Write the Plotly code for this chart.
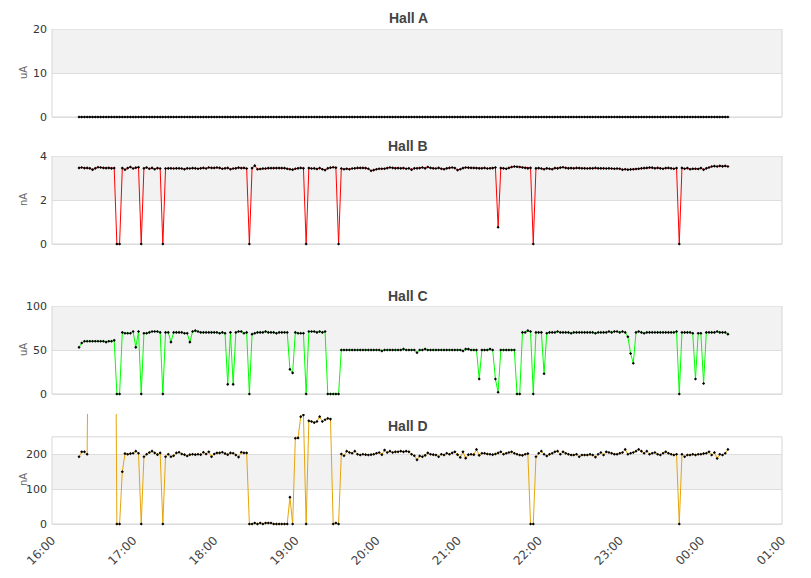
import pandas as pd
import plotly.graph_objects as go

# 2-minute samples, 16:20 -> 00:20
times = pd.date_range("2024-05-10 16:20", periods=241, freq="2min")
hour_ticks = pd.date_range("2024-05-10 16:00", periods=10, freq="1h")
hour_labels = ["16:00", "17:00", "18:00", "19:00", "20:00",
               "21:00", "22:00", "23:00", "00:00", "01:00"]

hall_names = ["Hall A", "Hall B", "Hall C", "Hall D"]
hall_units = ["uA", "nA", "uA", "nA"]

hall_a = [
    0, 0, 0, 0, 0, 0, 0, 0, 0, 0, 0, 0, 0, 0, 0, 0, 0, 0, 0, 0,
    0, 0, 0, 0, 0, 0, 0, 0, 0, 0, 0, 0, 0, 0, 0, 0, 0, 0, 0, 0,
    0, 0, 0, 0, 0, 0, 0, 0, 0, 0, 0, 0, 0, 0, 0, 0, 0, 0, 0, 0,
    0, 0, 0, 0, 0, 0, 0, 0, 0, 0, 0, 0, 0, 0, 0, 0, 0, 0, 0, 0,
    0, 0, 0, 0, 0, 0, 0, 0, 0, 0, 0, 0, 0, 0, 0, 0, 0, 0, 0, 0,
    0, 0, 0, 0, 0, 0, 0, 0, 0, 0, 0, 0, 0, 0, 0, 0, 0, 0, 0, 0,
    0, 0, 0, 0, 0, 0, 0, 0, 0, 0, 0, 0, 0, 0, 0, 0, 0, 0, 0, 0,
    0, 0, 0, 0, 0, 0, 0, 0, 0, 0, 0, 0, 0, 0, 0, 0, 0, 0, 0, 0,
    0, 0, 0, 0, 0, 0, 0, 0, 0, 0, 0, 0, 0, 0, 0, 0, 0, 0, 0, 0,
    0, 0, 0, 0, 0, 0, 0, 0, 0, 0, 0, 0, 0, 0, 0, 0, 0, 0, 0, 0,
    0, 0, 0, 0, 0, 0, 0, 0, 0, 0, 0, 0, 0, 0, 0, 0, 0, 0, 0, 0,
    0, 0, 0, 0, 0, 0, 0, 0, 0, 0, 0, 0, 0, 0, 0, 0, 0, 0, 0, 0,
    0,
]

hall_b = [
    3.46, 3.48, 3.45, 3.46, 3.44, 3.38, 3.44, 3.49, 3.48, 3.46, 3.45, 3.46, 3.44, 3.45,
    0, 0,
    3.45, 3.38, 3.45, 3.50, 3.43, 3.47, 3.49,
    0,
    3.44, 3.48, 3.42, 3.46, 3.40, 3.45, 3.43,
    0,
    3.43, 3.44, 3.44, 3.43, 3.44, 3.44, 3.43, 3.40, 3.44, 3.43, 3.45, 3.44, 3.42, 3.44, 3.46, 3.43,
    3.48, 3.46, 3.46, 3.48, 3.46, 3.42, 3.44, 3.46, 3.40, 3.43, 3.44, 3.47, 3.45, 3.46, 3.43,
    0,
    3.45, 3.56, 3.40, 3.41, 3.43, 3.43, 3.45, 3.45, 3.45, 3.45, 3.45, 3.45, 3.45, 3.42, 3.40, 3.38,
    3.42, 3.44, 3.46, 3.44,
    0,
    3.45, 3.43, 3.44, 3.41, 3.45, 3.40, 3.36, 3.44, 3.47, 3.49, 3.47,
    0,
    3.43, 3.40, 3.42, 3.40, 3.43, 3.44, 3.46, 3.46, 3.46, 3.45, 3.42,
    3.33, 3.36, 3.40, 3.42, 3.42, 3.42, 3.45, 3.48, 3.46, 3.44, 3.45,
    3.44, 3.45, 3.42, 3.44, 3.38, 3.44, 3.44, 3.45, 3.48, 3.44, 3.50,
    3.46, 3.44, 3.43, 3.46, 3.42, 3.40, 3.44, 3.46, 3.48, 3.45, 3.36,
    3.40, 3.45, 3.48, 3.47, 3.46, 3.46, 3.45, 3.44, 3.44, 3.46, 3.43, 3.44, 3.45, 3.48,
    0.76,
    3.45, 3.44, 3.42, 3.46, 3.50, 3.52, 3.51, 3.50, 3.48, 3.46, 3.44, 3.46,
    0,
    3.44, 3.45, 3.43, 3.40, 3.44, 3.42, 3.40, 3.45, 3.44, 3.47, 3.49,
    3.46, 3.44, 3.45, 3.44, 3.46, 3.45, 3.44, 3.44, 3.43, 3.44, 3.44,
    3.46, 3.44, 3.44, 3.44, 3.43, 3.44, 3.43, 3.42, 3.43, 3.42, 3.38,
    3.40, 3.38, 3.39, 3.40, 3.41, 3.42, 3.44, 3.45, 3.46, 3.48, 3.47,
    3.44, 3.46, 3.44, 3.42, 3.45, 3.46, 3.44, 3.42, 3.45,
    0,
    3.46, 3.42, 3.45, 3.40, 3.42, 3.42, 3.41, 3.45, 3.38, 3.44, 3.48, 3.52, 3.54, 3.52, 3.55,
    3.53, 3.55, 3.52,
]

hall_c = [
    53, 58,
    60, 60, 60, 60, 60, 60, 60, 60, 59, 60, 60, 61,
    0, 0,
    70, 69, 69, 69, 71, 53, 71,
    0,
    69, 69, 70, 71, 71, 71, 70,
    0,
    70, 70, 59, 70, 70, 70, 70, 69, 69, 59, 71, 72, 71, 70, 70, 70, 70, 70, 70, 70, 69, 70, 69,
    11, 70, 11, 70, 71, 71, 69, 70, 0,
    68, 69, 70, 70, 70, 71, 70, 70, 70, 69, 70, 70, 70, 70,
    28, 24, 70,
    69, 69, 69,
    0,
    71, 71, 71, 70, 71, 70, 71,
    0, 0, 0, 0, 0,
    50, 50, 50, 50, 50, 50, 50, 50, 50, 50, 50,
    50, 50, 50, 50, 49, 50, 50, 50, 50, 50, 50,
    50, 51, 50, 50, 50, 50, 47, 50, 50, 51, 50,
    50, 50, 50, 50, 50, 50, 50, 50, 50, 50, 50,
    50, 49, 51, 51, 50, 50, 50,
    17, 50, 50, 50, 51, 50,
    17, 2, 50,
    50, 50, 50, 50, 50,
    0, 0,
    70, 70, 72, 71,
    0,
    70, 70, 70,
    23,
    69, 70, 70, 70, 71, 70, 70, 70, 70, 69, 70,
    70, 70, 70, 70, 70, 70, 70, 69, 70, 70, 70,
    70, 71, 70, 71, 71, 70, 71, 70,
    65, 46, 35, 70,
    71, 70, 69, 70, 70, 70, 70, 70, 70, 70, 70, 70, 70, 70, 71,
    0,
    70, 70, 70, 70, 69,
    17,
    69, 69,
    12,
    70, 70, 70, 70, 71, 70, 70, 70, 68,
]

hall_d = [
    193, 207, 207, 200,
    1200, 1200, 1200, 1200, 1200, 1200, 1200, 1200, 1200, 1200,
    0, 0,
    150, 202, 200, 202, 203, 209, 203,
    0,
    193, 200, 205, 209, 204, 199, 204,
    0,
    193, 200, 193, 196, 204, 206, 201, 199, 195, 199,
    200, 199, 200, 199, 206, 201, 207, 193, 201, 204,
    204, 206, 202, 199, 204, 203, 198, 192, 206, 204, 204,
    0, 0, 3, 0, 3, 0, 3, 3, 3, 0, 0, 0, 0, 0, 0,
    77, 0, 246, 247, 308, 313, 0, 296, 294, 291, 294, 308, 294, 299, 303, 301, 0, 3, 0, 201,
    196, 209, 205, 203, 209, 200, 198, 200, 199, 198,
    199, 200, 203, 205, 199, 212, 205, 209, 205, 207,
    207, 209, 207, 209, 207, 200, 196, 184, 195, 193,
    197, 204, 200, 199, 198, 193, 200, 198, 203, 200,
    204, 207, 199, 191, 207, 189, 199, 200, 199, 214,
    197, 203, 203, 201, 200, 199, 201, 204, 207, 200,
    203, 205, 207, 203, 200, 198, 197, 200, 202,
    0, 0,
    193, 203, 209, 200, 195, 200, 203, 207, 209, 200,
    207, 203, 200, 198, 198, 200, 193, 198, 198, 198,
    200, 198, 192, 200, 205, 198, 207, 205, 203, 200,
    200, 203, 205, 214, 200, 203, 205, 209, 214, 209,
    203, 209, 200, 203, 205, 200, 198, 203, 207, 203,
    200, 198, 200,
    0,
    200, 193, 198, 198, 200, 198, 200, 200, 202, 203, 207, 198, 205, 188, 200, 198, 203, 214,
]

hall_values = [hall_a, hall_b, hall_c, hall_d]
for name, vals in zip(hall_names, hall_values):
    assert len(vals) == len(times), (name, len(vals))

line_colors = ["#000000", "#ff0000", "#00ff00", "#e5a50a"]

# per panel: visible box top, tick values, y range, pixel rows (top, bottom) of axis
box_tops = [20, 4, 100, 250]
tick_sets = [[0, 10, 20], [0, 2, 4], [0, 50, 100], [0, 100, 200]]
y_ranges = [[-0.45, 20], [-0.09, 4], [-2.27, 100], [-5.74, 315.6]]
pix_rows = [(29, 119), (156, 246), (306, 396), (414, 526)]
title_rows = [18, 146, 296, 426]
unit_rows = [73, 200, 350, 480]

W, H = 811, 578
OFF = 8  # page body margin pushes the figure 8px right and down
X0, X1 = 52, 782
GRID = "#dddddd"
BAND = "#f2f2f2"


def px_x(p):
    return (p - OFF) / W


def px_y(p):
    return 1 - (p - OFF) / H


fig = go.Figure()
layout = dict(
    width=W, height=H,
    margin=dict(l=0, r=0, t=0, b=0, autoexpand=False),
    paper_bgcolor="white", plot_bgcolor="white",
    showlegend=False,
    font=dict(family="DejaVu Sans", size=11, color="#333333"),
)
shapes = []
annotations = []

for i in range(4):
    n = i + 1
    xa = "x" if n == 1 else f"x{n}"
    ya = "y" if n == 1 else f"y{n}"
    fig.add_trace(go.Scatter(
        x=times, y=hall_values[i], xaxis=xa, yaxis=ya,
        mode="lines+markers", name=hall_names[i],
        line=dict(color=line_colors[i], width=1),
        marker=dict(symbol="diamond", size=2.4, color="black"),
        hoverinfo="x+y",
    ))

    top, bot = pix_rows[i]
    layout[f"xaxis{'' if n == 1 else n}"] = dict(
        domain=[px_x(X0), px_x(X1)], anchor=ya, automargin=False,
        range=[hour_ticks[0], hour_ticks[-1]],
        tickvals=list(hour_ticks), ticktext=hour_labels,
        showticklabels=(n == 4), tickangle=-45,
        tickfont=dict(size=12, color="#444444"),
        showgrid=False, zeroline=False, showline=False, ticks="",
        ticklabelstandoff=4,
        matches=None if n == 1 else "x",
    )
    layout[f"yaxis{'' if n == 1 else n}"] = dict(
        domain=[px_y(bot), px_y(top)], anchor=xa, automargin=False,
        range=y_ranges[i], tickvals=tick_sets[i],
        showgrid=True, gridcolor=GRID, gridwidth=1,
        zeroline=False, showline=False, ticks="",
        ticklabelstandoff=4,
        tickfont=dict(size=11, color="#333333"),
    )

    step = tick_sets[i][1]
    # alternating bands: white from 0, grey on the next interval
    shapes.append(dict(
        type="rect", xref=f"{xa} domain", yref=ya, layer="below",
        x0=0, x1=1, y0=step, y1=2 * step,
        fillcolor=BAND, line=dict(width=0),
    ))
    shapes.append(dict(
        type="rect", xref=f"{xa} domain", yref=ya, layer="below",
        x0=0, x1=1, y0=0, y1=box_tops[i],
        fillcolor="rgba(0,0,0,0)", line=dict(color="#d6d6d6", width=1),
    ))

    annotations.append(dict(
        text=f"<b>{hall_names[i]}</b>", xref="paper", yref="paper",
        x=px_x(408), y=px_y(title_rows[i]), showarrow=False,
        xanchor="center", yanchor="middle",
        font=dict(family="Liberation Sans", size=14, color="#444444"),
    ))
    annotations.append(dict(
        text=hall_units[i], xref="paper", yref="paper",
        x=px_x(23), y=px_y(unit_rows[i]), showarrow=False, textangle=-90,
        xanchor="center", yanchor="middle",
        font=dict(size=10, color="#666666"),
    ))

layout["shapes"] = shapes
layout["annotations"] = annotations
fig.update_layout(**layout)

fig.write_html("out.html", config={"displayModeBar": False})
